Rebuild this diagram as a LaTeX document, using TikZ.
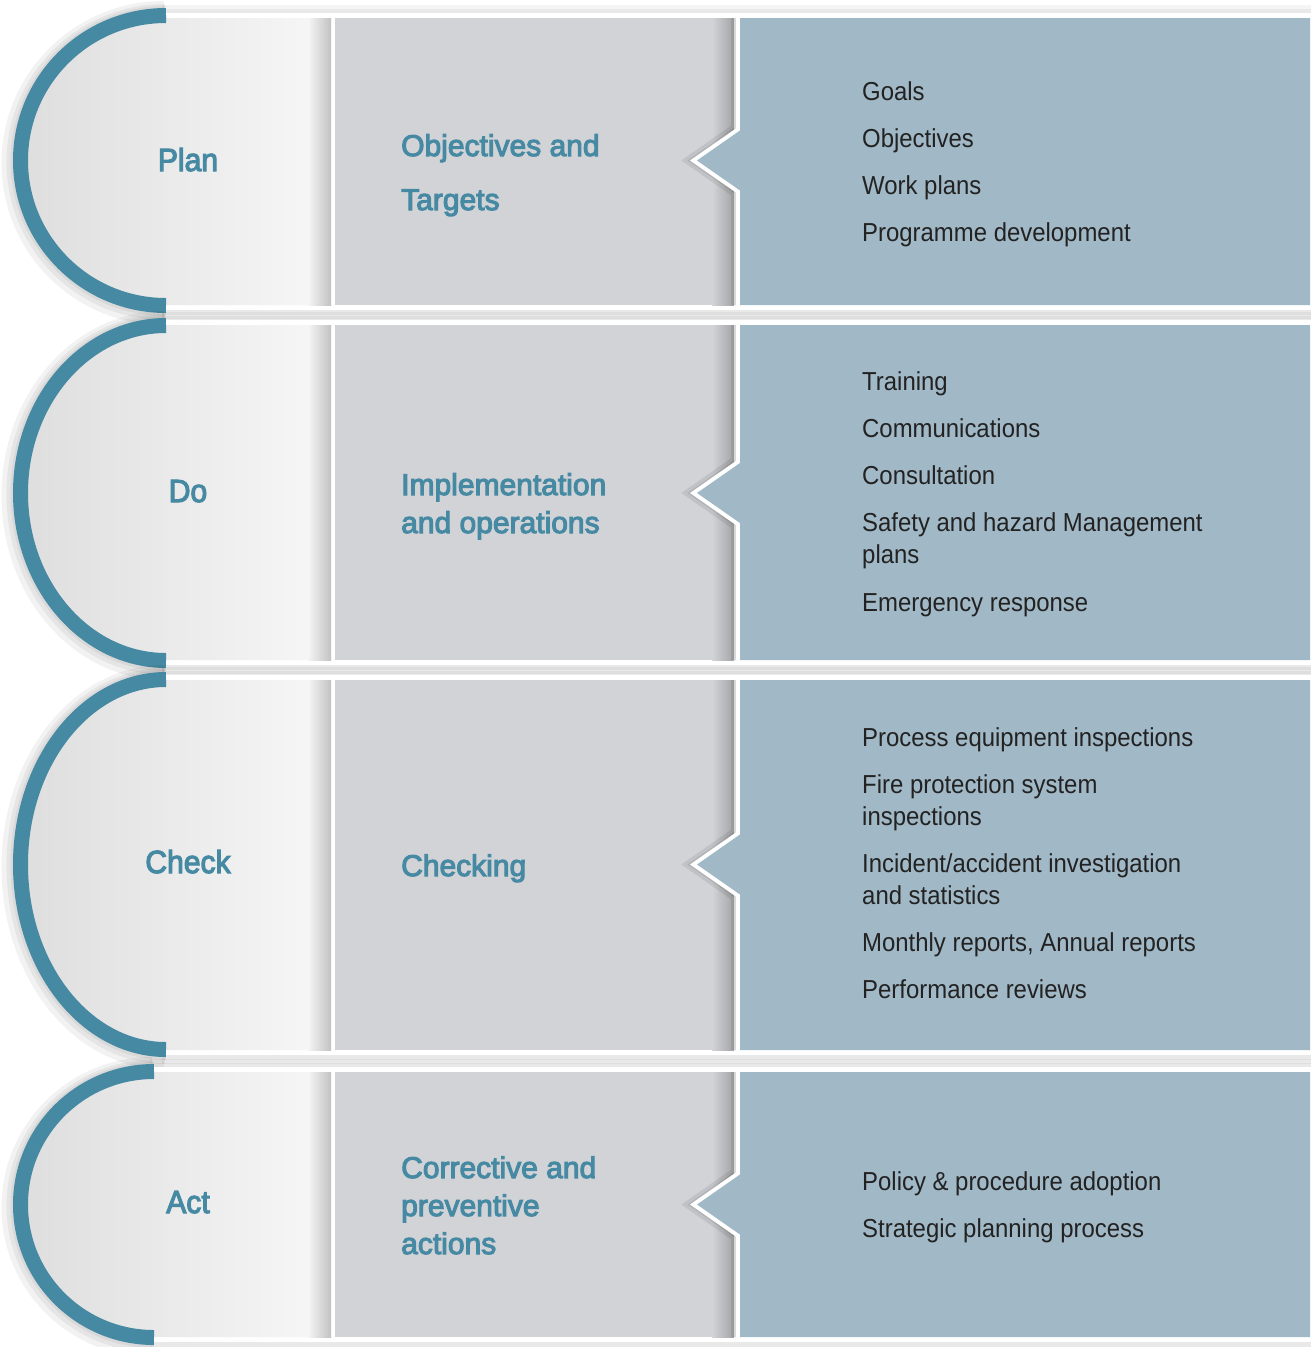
\documentclass[tikz,border=0pt]{standalone}
\usepackage{fontspec}
\setmainfont{Liberation Sans}
\newfontfamily\itemfont[FakeStretch=0.92]{Liberation Sans}
\newfontfamily\headfont[FakeBold=3.5]{Liberation Sans}
\newfontfamily\labfont[FakeBold=3.5,FakeStretch=0.94]{Liberation Sans}
\definecolor{arcblue}{RGB}{70,137,162}
\definecolor{pgray}{RGB}{209,211,214}
\definecolor{pblue}{RGB}{161,184,198}
\definecolor{itemtxt}{RGB}{34,34,34}
\begin{document}
\begin{tikzpicture}[x=1pt,y=-1pt,
  lab/.style={font=\labfont\fontsize{32}{38}\selectfont, text=arcblue, anchor=base, inner sep=0pt},
  head/.style={font=\headfont\fontsize{30}{38}\selectfont, text=arcblue, anchor=base west, inner sep=0pt, align=left},
  itm/.style={font=\itemfont\fontsize{26}{32}\selectfont, text=itemtxt, anchor=base west, inner sep=0pt, align=left},
  halo/.style={fill=black, opacity=0.045},
  arcshadow/.style={draw=black, opacity=0.05},
  arcline/.style={draw=arcblue, line width=15pt},
  graypanel/.style={fill=pgray},
  bluepanel/.style={fill=pblue},
  notchshadow/.style={draw=black, opacity=0.08, line join=miter}]
\useasboundingbox (0,0) rectangle (1311,1347);
\fill[white] (0,0) rectangle (1311,1347);

\foreach \T/\B/\AT/\AB/\E/\R in {18/305/8/313/166/153, 325/660/318/668/166/153, 680/1050/672/1057/166/153, 1072/1337/1064/1345/154/141}{
  \pgfmathsetmacro\C{(\AT+\AB)/2}
  \pgfmathsetmacro\RY{(\AB-\AT)/2}
  % soft shadows around the row
  \fill[halo] (\E-4,\T-13) rectangle (1311,\B+14);
  \fill[halo] (\E-2,\T-9) rectangle (1311,\B+10);
  \draw[arcshadow, line width=34pt] (\E-2,\AT+10) arc[start angle=270, end angle=90, x radius=\R-7.5, y radius=\RY-7.5];
  \draw[arcshadow, line width=26pt] (\E-1,\AT+9) arc[start angle=270, end angle=90, x radius=\R-7.5, y radius=\RY-7.5];
  \draw[arcshadow, line width=20pt] (\E,\AT+8) arc[start angle=270, end angle=90, x radius=\R-7.5, y radius=\RY-7.5];
  % white band
  \fill[white] (\E,\T-5) rectangle (1311,\B+5);
  % light half disc
  \shade[left color=black!13, right color=black!3] (\E,\T) -- (\E,\AT+8) arc[start angle=270, end angle=90, x radius=\R-8, y radius=\RY-8] -- (\E,\B) -- (331,\B) -- (331,\T) -- cycle;
  \shade[left color=black!4, right color=black!24] (308,\T) rectangle (331,\B);
  % gray panel
  \fill[graypanel] (335,\T) rectangle (734,\B);
  \shade[left color=pgray, right color=pgray!78!black] (712,\T) rectangle (734,\B);
  \begin{scope}
    \clip (335,\T) rectangle (737,\B);
    \draw[notchshadow, line width=18pt] (740,\T) -- (740,\C-30) -- (697,\C) -- (740,\C+30) -- (740,\B);
    \draw[notchshadow, line width=11pt] (740,\T) -- (740,\C-30) -- (697,\C) -- (740,\C+30) -- (740,\B);
  \end{scope}
  \draw[white, line width=8pt] (740,\T) -- (740,\C-30) -- (697,\C) -- (740,\C+30) -- (740,\B);
  % blue panel with notch
  \fill[bluepanel] (740,\T) -- (740,\C-30) -- (697,\C) -- (740,\C+30) -- (740,\B) -- (1310,\B) -- (1310,\T) -- cycle;
  % blue arc
  \draw[arcline] (\E,\AT+7.5) arc[start angle=270, end angle=90, x radius=\R-7.5, y radius=\RY-7.5];
}

% stage labels
\node[lab] (plan) at (188,171) {Plan};
\node[lab] (do) at (188,502) {Do};
\node[lab] (check) at (188,873) {Check};
\node[lab] (act) at (188,1213) {Act};

% headings (anchor base = baseline of last line)
\node[head] (h1) at (401,210) {Objectives and\\[16pt]Targets};
\node[head] (h2) at (401,533) {Implementation\\and operations};
\node[head] (h3) at (401,876) {Checking};
\node[head] (h4) at (401,1254) {Corrective and\\preventive\\actions};

% items
\node[itm] (p1) at (862,100.5) {Goals};
\node[itm] (p2) at (862,147.5) {Objectives};
\node[itm] (p3) at (862,194.5) {Work plans};
\node[itm] (p4) at (862,241.5) {Programme development};

\node[itm] (d1) at (862,390.5) {Training};
\node[itm] (d2) at (862,437.5) {Communications};
\node[itm] (d3) at (862,484.5) {Consultation};
\node[itm] (d4) at (862,563.5) {Safety and hazard Management\\plans};
\node[itm] (d5) at (862,611.5) {Emergency response};

\node[itm] (c1) at (862,746.5) {Process equipment inspections};
\node[itm] (c2) at (862,825.5) {Fire protection system\\inspections};
\node[itm] (c3) at (862,904.5) {Incident/accident investigation\\and statistics};
\node[itm] (c4) at (862,951.5) {Monthly reports, Annual reports};
\node[itm] (c5) at (862,998.5) {Performance reviews};

\node[itm] (a1) at (862,1190.5) {Policy \& procedure adoption};
\node[itm] (a2) at (862,1237.5) {Strategic planning process};
\end{tikzpicture}
\end{document}
